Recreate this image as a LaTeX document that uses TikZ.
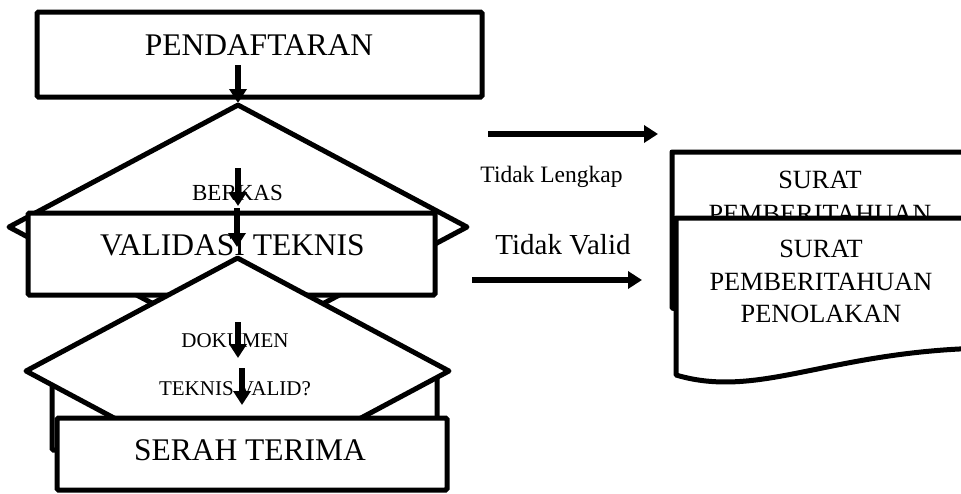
\documentclass[tikz,border=0pt]{standalone}
\usepackage{fontspec}
\setmainfont{Liberation Serif}
\usetikzlibrary{arrows.meta,shapes.geometric}
\tikzset{
  box/.style={draw, line width=5pt, fill=white, rounded corners=1.5pt, inner sep=0pt},
  decision/.style={diamond, draw, line width=5pt, fill=white, line join=round, inner sep=0pt},
  doc/.style={draw, line width=5pt, fill=white, line join=round},
  flow/.style={line width=5.5pt, -{Triangle[length=14pt,width=17pt]}},
  txt/.style={anchor=base, inner sep=0pt},
}
\newcommand{\sizebig}{\fontsize{31.5}{36}\selectfont}
\newcommand{\sizedoc}{\fontsize{26.3}{33}\selectfont}
\begin{document}
\begin{tikzpicture}[x=1pt,y=-1pt]
    \useasboundingbox (0,0) rectangle (961,493);
    \clip (0,0) rectangle (961,493);
    % surat pemberitahuan (belakang)
    \draw[doc] (672,308) -- (672,152) -- (990,152) -- (990,290) .. controls (850,285) and (760,330) .. (672,308) -- cycle;
    \node[txt, font=\sizedoc] (surat1) at (820,188) {SURAT};
    \node[txt, font=\sizedoc] (pemb1) at (820,222) {PEMBERITAHUAN};
    % surat pemberitahuan penolakan
    \draw[doc] (676,375) -- (676,218) -- (990,218) -- (990,348) .. controls (830,350) and (760,400) .. (676,375) -- cycle;
    \node[txt, font=\sizedoc] (surat2) at (821,257) {SURAT};
    \node[txt, font=\sizedoc] (pemb2) at (821,290) {PEMBERITAHUAN};
    \node[txt, font=\sizedoc] (tolak) at (821,322) {PENOLAKAN};
    % panah ke kanan
    \coordinate (lk1) at (488,134);
    \coordinate (lk2) at (658,134);
    \coordinate (vd1) at (472,280);
    \coordinate (vd2) at (642,280);
    \draw[flow] (lk1) -- (lk2);
    \draw[flow] (vd1) -- (vd2);
    \node[txt, font=\fontsize{23.5}{28}\selectfont] (lengkap) at (551.5,182) {Tidak Lengkap};
    \node[txt, font=\fontsize{29}{34}\selectfont] (valid) at (563,254) {Tidak Valid};
    % pendaftaran
    \node[box, minimum width=445pt, minimum height=85pt] (daftar) at (259.5,54.5) {};
    \node[txt, font=\sizebig] at (259,55) {PENDAFTARAN};
    \coordinate (p1) at (238,65);
    \coordinate (p2) at (238,103);
    \draw[flow] (p1) -- (p2);
    % berkas
    \node[decision, minimum width=460pt, minimum height=246pt] (berkas) at (238,227) {};
    \node[txt, font=\fontsize{23}{28}\selectfont] at (237.5,200) {BERKAS};
    \coordinate (b1) at (238,168);
    \coordinate (b2) at (238,206);
    \draw[flow] (b1) -- (b2);
    % validasi teknis
    \node[box, minimum width=407pt, minimum height=82pt] (validasi) at (231.5,254) {};
    \node[txt, font=\sizebig] at (232.5,255) {VALIDASI TEKNIS};
    \coordinate (v1) at (237,208);
    \coordinate (v2) at (237,247);
    \draw[flow] (v1) -- (v2);
    % dokumen teknis valid?
    \node[box, minimum width=385pt, minimum height=75pt] (bawah) at (244.5,412.5) {};
    \node[decision, minimum width=425pt, minimum height=228pt] (dokumen) at (237.5,371) {};
    \node[txt, font=\fontsize{21}{25}\selectfont] at (235,347) {DOKUMEN};
    \node[txt, font=\fontsize{21}{25}\selectfont] at (235,395) {TEKNIS VALID?};
    \coordinate (d1) at (238,322);
    \coordinate (d2) at (238,358);
    \coordinate (d3) at (242,368);
    \coordinate (d4) at (242,405);
    \draw[flow] (d1) -- (d2);
    \draw[flow] (d3) -- (d4);
    % serah terima
    \node[box, minimum width=390pt, minimum height=72pt] (serah) at (252,454) {};
    \node[txt, font=\sizebig] at (250,460) {SERAH TERIMA};
\end{tikzpicture}
\end{document}
